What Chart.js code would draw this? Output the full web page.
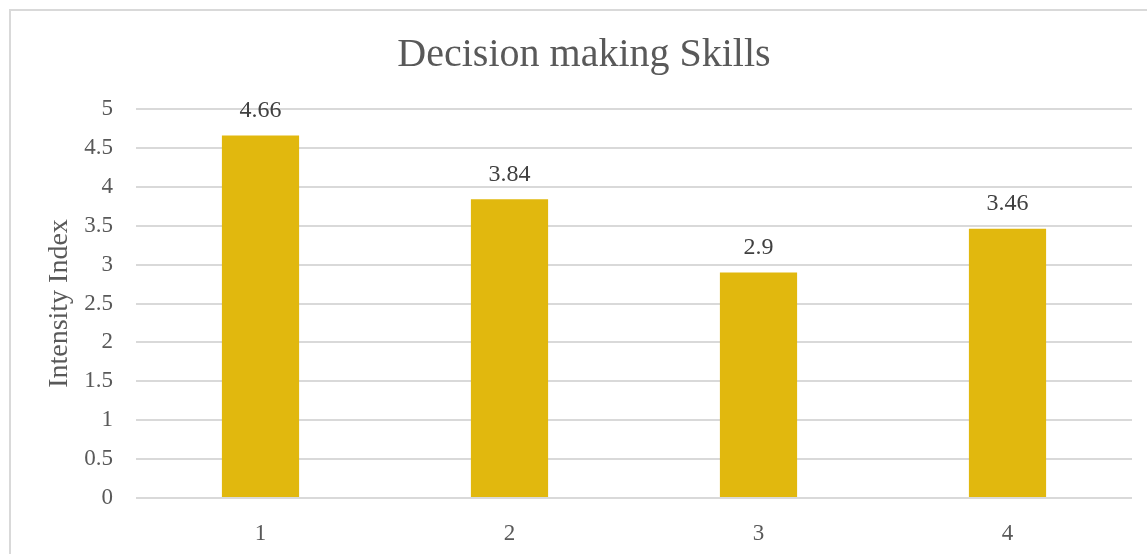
<!DOCTYPE html>
<html>
<head>
<meta charset="utf-8">
<script src="https://cdn.jsdelivr.net/npm/chart.js@4.4.0/dist/chart.umd.min.js"></script>
<style>
  html, body { margin: 0; padding: 0; background: #fff; }
  #wrap { position: relative; width: 1147px; height: 554px; }
  #frame {
    position: absolute; left: 9px; top: 9px; right: 0; bottom: -2px;
    border-top: 2px solid #d9d9d9; border-left: 2px solid #d9d9d9;
  }
  canvas { position: absolute; left: 0; top: 0; }
</style>
</head>
<body>
<div id="wrap">
  <div id="frame"></div>
  <canvas id="myChart" width="1147" height="554"></canvas>
</div>
<script>
const categories = ['1', '2', '3', '4'];
const intensity = [4.66, 3.84, 2.9, 3.46];

const FONT = "'Liberation Serif', 'DejaVu Serif', serif";
const GREY = '#595959';

// valeurs au-dessus des barres
const valueLabels = {
  id: 'valueLabels',
  afterDatasetsDraw(chart) {
    const ctx = chart.ctx;
    const meta = chart.getDatasetMeta(0);
    ctx.save();
    ctx.font = '24px ' + FONT;
    ctx.fillStyle = '#404040';
    ctx.textAlign = 'center';
    ctx.textBaseline = 'middle';
    meta.data.forEach((bar, i) => {
      ctx.fillText(String(chart.data.datasets[0].data[i]), bar.x, bar.y - 25);
    });
    ctx.restore();
  }
};

const ctx = document.getElementById('myChart');

new Chart(ctx, {
  type: 'bar',
  data: {
    labels: categories,
    datasets: [{
      data: intensity,
      backgroundColor: '#e1b80e',
      borderWidth: 0,
      categoryPercentage: 1,
      barPercentage: 0.31
    }]
  },
  plugins: [valueLabels],
  options: {
    responsive: false,
    animation: false,
    devicePixelRatio: 1,
    layout: { padding: { left: 36, right: 15, top: 0, bottom: 0 } },
    plugins: {
      legend: { display: false },
      tooltip: { enabled: false },
      title: {
        display: true,
        text: 'Decision making Skills',
        color: GREY,
        font: { family: FONT, size: 40, weight: 'normal' },
        padding: { top: 31, bottom: 30 }
      }
    },
    scales: {
      x: {
        grid: { display: false },
        border: { display: false },
        ticks: { color: GREY, font: { family: FONT, size: 23 }, padding: 14 },
        afterFit(scale) { scale.height = 56; }
      },
      y: {
        min: 0,
        max: 5,
        ticks: {
          stepSize: 0.5,
          color: GREY,
          font: { family: FONT, size: 23 },
          padding: 23,
          callback: (v) => String(Number(v.toFixed(1)))
        },
        grid: { color: '#d9d9d9', lineWidth: 2, drawTicks: false },
        border: { display: false },
        title: {
          display: true,
          text: 'Intensity Index',
          color: GREY,
          font: { family: FONT, size: 28 },
          padding: { top: 7, bottom: 0 }
        },
        afterFit(scale) { scale.width = 100; }
      }
    }
  }
});
</script>
</body>
</html>
